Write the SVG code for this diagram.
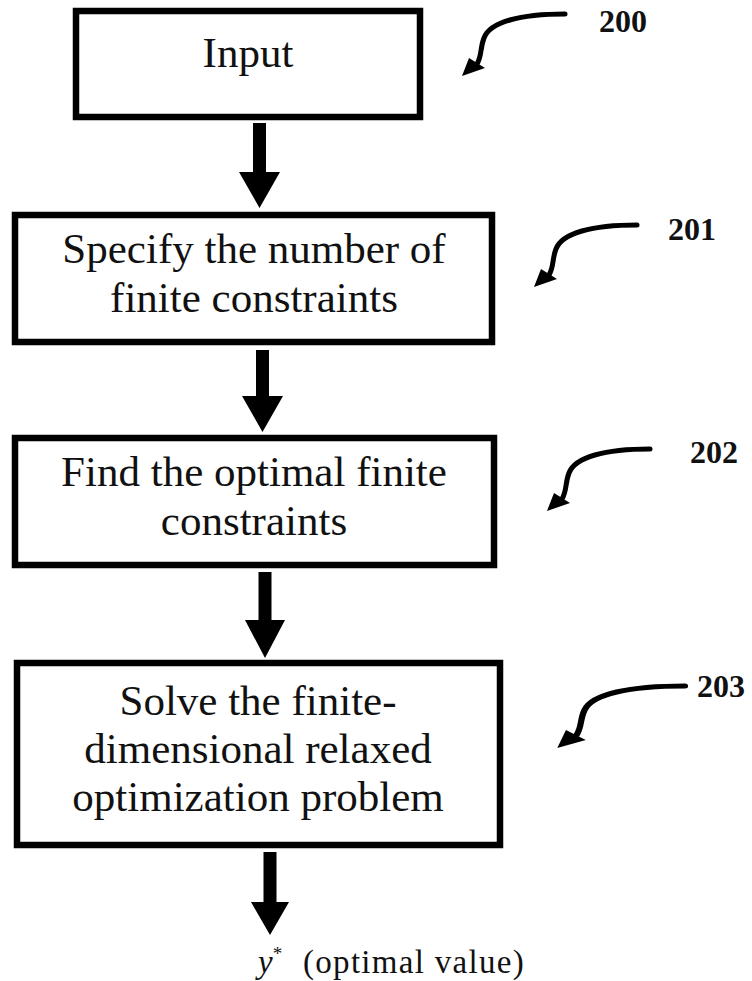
<svg xmlns="http://www.w3.org/2000/svg" width="752" height="981" viewBox="0 0 752 981">
<style>
.box{fill:#fff;stroke:#000;stroke-width:6.5}
.t{font-family:"Liberation Serif","Times New Roman",serif;font-size:43px;fill:#111;text-anchor:middle}
.lbl{font-family:"Liberation Serif","Times New Roman",serif;font-size:32px;font-weight:bold;fill:#111}
.curl{fill:none;stroke:#000;stroke-width:5;stroke-linecap:round}
.ah{fill:#000}
.out{font-family:"Liberation Serif","Times New Roman",serif;font-size:33px;fill:#111}
</style>
<defs>
<g id="curly">
<path class="curl" d="M0,0 C-45,0 -75,8 -81,24 C-85,34 -83,42 -88,50"/>
<polygon class="ah" points="-103,62 -96,44 -80,54"/>
</g>
</defs>
<g id="node200">
<rect class="box" x="76" y="11" width="344" height="106"/>
<text class="t" x="248" y="67">Input</text>
</g>
<g id="node201">
<rect class="box" x="15" y="215" width="477" height="127"/>
<text class="t" x="254" y="263">Specify the number of</text>
<text class="t" x="254" y="312">finite constraints</text>
</g>
<g id="node202">
<rect class="box" x="15" y="438" width="479" height="127"/>
<text class="t" x="254" y="486">Find the optimal finite</text>
<text class="t" x="254" y="535">constraints</text>
</g>
<g id="node203">
<rect class="box" x="17" y="663" width="483" height="182"/>
<text class="t" x="258" y="715">Solve the finite-</text>
<text class="t" x="258" y="763">dimensional relaxed</text>
<text class="t" x="258" y="811">optimization problem</text>
</g>
<g id="output">
<text class="out" x="258" y="973"><tspan font-style="italic">y</tspan><tspan font-size="19" dy="-13">*</tspan></text>
<text class="out" x="303" y="973" letter-spacing="1.3">(optimal value)</text>
</g>
<g id="labels">
<text class="lbl" x="599" y="32">200</text>
<text class="lbl" x="668" y="240">201</text>
<text class="lbl" x="690" y="463">202</text>
<text class="lbl" x="697" y="697">203</text>
<use href="#curly" x="565" y="14"/>
<use href="#curly" x="637" y="225"/>
<use href="#curly" x="650" y="449"/>
<use href="#curly" transform="translate(685 686) scale(1.24 1)"/>
</g>
<g id="connectors" fill="#000">
<polygon points="253,123 266,123 266,172 280,172 259.5,208 239,172 253,172"/>
<polygon points="256,350 269,350 269,396 283,396 262.5,432 242,396 256,396"/>
<polygon points="258.5,572 271.5,572 271.5,620 285,620 265,658 245,620 258.5,620"/>
<polygon points="263.5,852 276.5,852 276.5,902 289,902 270,935 251,902 263.5,902"/>
</g>
</svg>
